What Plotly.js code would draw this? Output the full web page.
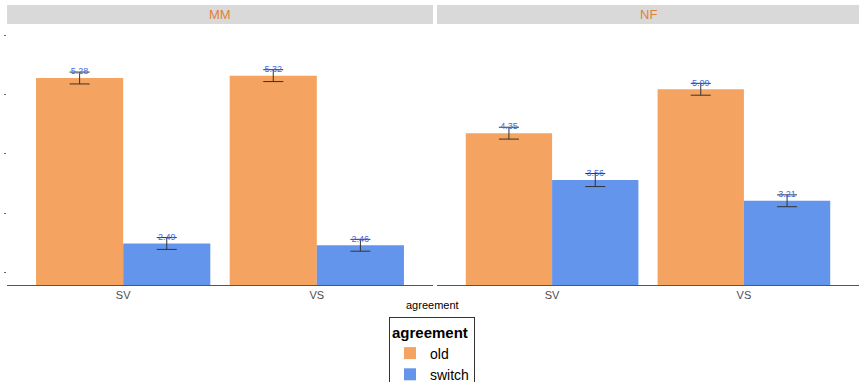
<!DOCTYPE html>
<html><head><meta charset="utf-8">
<script src="https://cdn.plot.ly/plotly-3.0.1.min.js"></script>
<style>body{margin:0;padding:0;background:#fff}</style>
</head><body><div id="chart" style="width:859px;height:382px"></div>
<script>
const panels = ["MM", "NF"];
const categories = ["SV", "VS"];
const seriesNames = ["old", "switch"];
const colors = ["#F4A460", "#6495ED"];
const oldMM = [5.28, 5.32];
const switchMM = [2.49, 2.46];
const oldNF = [4.35, 5.09];
const switchNF = [3.56, 3.21];
const errOldMM = [0.1, 0.1];
const errSwitchMM = [0.1, 0.1];
const errOldNF = [0.1, 0.1];
const errSwitchNF = [0.11, 0.1];

const values = {MM: [oldMM, switchMM], NF: [oldNF, switchNF]};
const errs = {MM: [errOldMM, errSwitchMM], NF: [errOldNF, errSwitchNF]};
const barW = 0.45;
const traces = [];
panels.forEach((p, pi) => {
  const xa = pi === 0 ? 'x' : 'x2';
  const ya = pi === 0 ? 'y' : 'y2';
  seriesNames.forEach((s, si) => {
    const xs = categories.map((c, ci) => ci + (si - 0.5) * barW);
    traces.push({
      type: 'bar', x: xs, y: values[p][si], width: barW,
      name: s, legendgroup: s, showlegend: pi === 0,
      marker: {color: colors[si], line: {width: 0}},
      error_y: {type: 'data', array: errs[p][si], visible: true, color: '#333333', thickness: 1, width: 10},
      xaxis: xa, yaxis: ya, hoverinfo: 'skip'
    });
    traces.push({
      type: 'scatter', mode: 'text', x: xs,
      y: values[p][si].map((v, i) => v + errs[p][si][i]),
      text: values[p][si].map(v => v.toFixed(2)),
      textposition: 'middle center',
      textfont: {family: 'Liberation Sans, Arial, sans-serif', size: 9, color: '#4169E1'},
      showlegend: false, xaxis: xa, yaxis: ya, hoverinfo: 'skip'
    });
  });
});

const yr = [1.79, 6.157];
const xCommon = {
  range: [-0.6, 1.6], tickvals: [0, 1], ticktext: categories,
  showline: true, linecolor: '#555555', linewidth: 1,
  ticks: '', showgrid: false, zeroline: false, fixedrange: true,
  tickfont: {family: 'Liberation Sans, Arial, sans-serif', size: 11, color: '#4d4d4d'}
};
const yCommon = {range: yr, showgrid: false, zeroline: false, showline: false, fixedrange: true};
const stripY0 = (285 - 24) / 259, stripY1 = (285 - 5) / 259;
const d1 = [7 / 859, 433 / 859], d2 = [437 / 859, 1];

const layout = {
  width: 859, height: 382,
  margin: {l: 0, r: 0, t: 26, b: 97, autoexpand: false},
  paper_bgcolor: '#fff', plot_bgcolor: '#fff',
  barmode: 'overlay', showlegend: true,
  font: {family: 'Liberation Sans, Arial, sans-serif'},
  xaxis: Object.assign({}, xCommon, {domain: d1, anchor: 'y'}),
  xaxis2: Object.assign({}, xCommon, {domain: d2, anchor: 'y2'}),
  yaxis: Object.assign({}, yCommon, {anchor: 'x', tickvals: [2, 3, 4, 5, 6], ticktext: ['', '', '', '', ''],
    ticks: 'outside', ticklen: 2, tickcolor: '#666666', tickwidth: 1, showticklabels: true}),
  yaxis2: Object.assign({}, yCommon, {anchor: 'x2', showticklabels: false, ticks: ''}),
  shapes: [
    {type: 'rect', xref: 'paper', yref: 'paper', x0: d1[0], x1: d1[1], y0: stripY0, y1: stripY1, fillcolor: '#d9d9d9', line: {width: 0}, layer: 'below'},
    {type: 'rect', xref: 'paper', yref: 'paper', x0: d2[0], x1: d2[1], y0: stripY0, y1: stripY1, fillcolor: '#d9d9d9', line: {width: 0}, layer: 'below'}
  ],
  annotations: [
    {text: panels[0], xref: 'paper', yref: 'paper', x: (d1[0] + d1[1]) / 2, y: (stripY0 + stripY1) / 2, showarrow: false,
      font: {size: 13, color: '#E0813A'}, xanchor: 'center', yanchor: 'middle'},
    {text: panels[1], xref: 'paper', yref: 'paper', x: (d2[0] + d2[1]) / 2, y: (stripY0 + stripY1) / 2, showarrow: false,
      font: {size: 13, color: '#E0813A'}, xanchor: 'center', yanchor: 'middle'},
    {text: 'agreement', xref: 'paper', yref: 'paper', x: 432 / 859, y: (285 - 297) / 259, showarrow: false,
      font: {size: 11, color: '#000'}, xanchor: 'center', yanchor: 'top'}
  ],
  legend: {
    x: 389 / 859, xanchor: 'left', y: (285 - 317) / 259, yanchor: 'top',
    bgcolor: '#fff', bordercolor: '#333', borderwidth: 1,
    title: {text: '<b>agreement</b>', font: {size: 15, color: '#000'}},
    font: {size: 14, color: '#000'}, tracegroupgap: 0, itemwidth: 30
  }
};
Plotly.newPlot('chart', traces, layout, {displayModeBar: false, staticPlot: true});
</script></body></html>
